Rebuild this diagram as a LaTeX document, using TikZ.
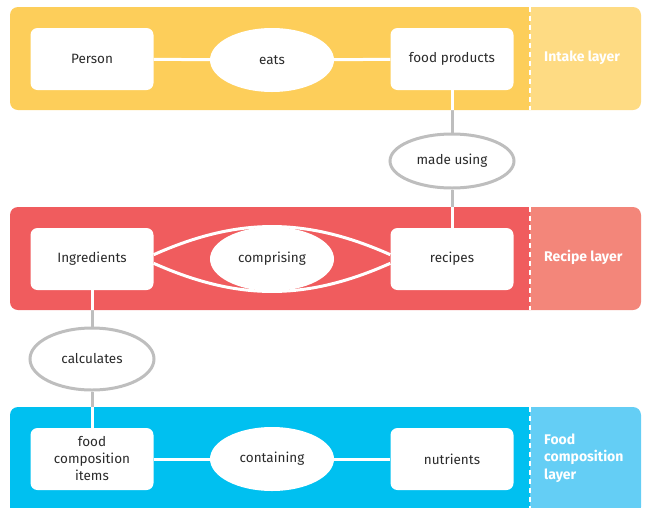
\documentclass[tikz,border=0pt]{standalone}
\usepackage{fontspec}
\setmainfont{Fira Sans}
\usetikzlibrary{shapes.geometric,backgrounds}
\definecolor{fdInk}    {HTML}{2A2A2A}
\definecolor{fdGrey}   {HTML}{BEBEBE}
\definecolor{fdSun}    {HTML}{FDCE5A}
\definecolor{fdSunLt}  {HTML}{FEDB83}
\definecolor{fdBerry}  {HTML}{F05C5E}
\definecolor{fdBerryLt}{HTML}{F3867A}
\definecolor{fdSky}    {HTML}{00C0F0}
\definecolor{fdSkyLt}  {HTML}{64CEF5}
\pgfdeclarelayer{bands}
\pgfdeclarelayer{links}
\pgfsetlayers{bands,links,main}
\tikzset{
  entity/.style={fill=white,rounded corners=7pt,minimum width=123pt,minimum height=62pt,
                 inner sep=2pt,align=center,text=fdInk,font=\fontsize{13.5}{17}\selectfont},
  relation/.style={ellipse,fill=white,minimum width=124pt,minimum height=64pt,inner sep=0pt,
                   text=fdInk,font=\fontsize{13.5}{17}\selectfont},
  outrel/.style={relation,draw=fdGrey,line width=3pt,minimum width=124pt,minimum height=54pt},
  inlink/.style={white,line width=3pt},
  outlink/.style={fdGrey,line width=3pt},
  layername/.style={anchor=west,text=white,align=left,inner sep=0pt,
                    font=\bfseries\fontsize{14}{17.5}\selectfont},
  divider/.style={white,line width=1.5pt,dash pattern=on 5pt off 4pt}
}
% one layer band: top, bottom, dark colour, light colour
\newcommand\fdband[4]{%
  \begin{scope}
    \clip (0,#1) rectangle (530,#2);
    \fill[#3,rounded corners=8pt] (10,#1) rectangle (641,#2);
  \end{scope}
  \begin{scope}
    \clip (530,#1) rectangle (646,#2);
    \fill[#4,rounded corners=8pt] (10,#1) rectangle (641,#2);
  \end{scope}
  \draw[divider] (530,#1) -- (530,#2);}

\begin{document}
\begin{tikzpicture}[x=1pt,y=-1pt]
  \useasboundingbox (0,0) rectangle (646,507);

  % intake layer
  \node[entity]   (person)  at (92,59)  {Person};
  \node[relation] (eats)    at (272,60) {eats};
  \node[entity]   (food)    at (452,59) {food products};
  \node[layername] (intake) at (544,58) {Intake layer};

  \node[outrel]   (made)    at (452,161) {made using};

  % recipe layer
  \node[entity]   (ingr)    at (92,259)  {Ingredients};
  \node[relation] (compr)   at (272,259) {comprising};
  \node[entity]   (recipe)  at (452,259) {recipes};
  \node[layername] (reclay) at (544,257) {Recipe layer};

  \node[outrel,minimum height=62pt] (calc) at (92,359) {calculates};

  % food composition layer
  \node[entity]   (fci)     at (92,459)  {food\\composition\\items};
  \node[relation] (contain) at (272,459) {containing};
  \node[entity]   (nutr)    at (452,459) {nutrients};
  \node[layername] (fclay)  at (544,458) {Food\\composition\\layer};

  \begin{pgfonlayer}{bands}
    \fdband{7}{110}{fdSun}{fdSunLt}
    \fdband{207}{310}{fdBerry}{fdBerryLt}
    \fdband{407}{515}{fdSky}{fdSkyLt}
  \end{pgfonlayer}

  \begin{pgfonlayer}{links}
    \draw[outlink] (food) -- (made) -- (recipe);
    \draw[outlink] (ingr) -- (calc) -- (fci);
    \begin{scope}
      \clip (10,7) rectangle (641,110) (10,207) rectangle (641,310)
            (10,407) rectangle (641,515);
      \draw[inlink] (food) -- (made) -- (recipe);
      \draw[inlink] (ingr) -- (calc) -- (fci);
    \end{scope}
    \draw[inlink] (person) -- (eats) -- (food);
    \draw[inlink] (ingr.4) to[out=24,in=156] (recipe.176);
    \draw[inlink] (ingr.-4) to[out=-24,in=-156] (recipe.-176);
    \draw[inlink] (fci) -- (contain) -- (nutr);
  \end{pgfonlayer}
\end{tikzpicture}
\end{document}
